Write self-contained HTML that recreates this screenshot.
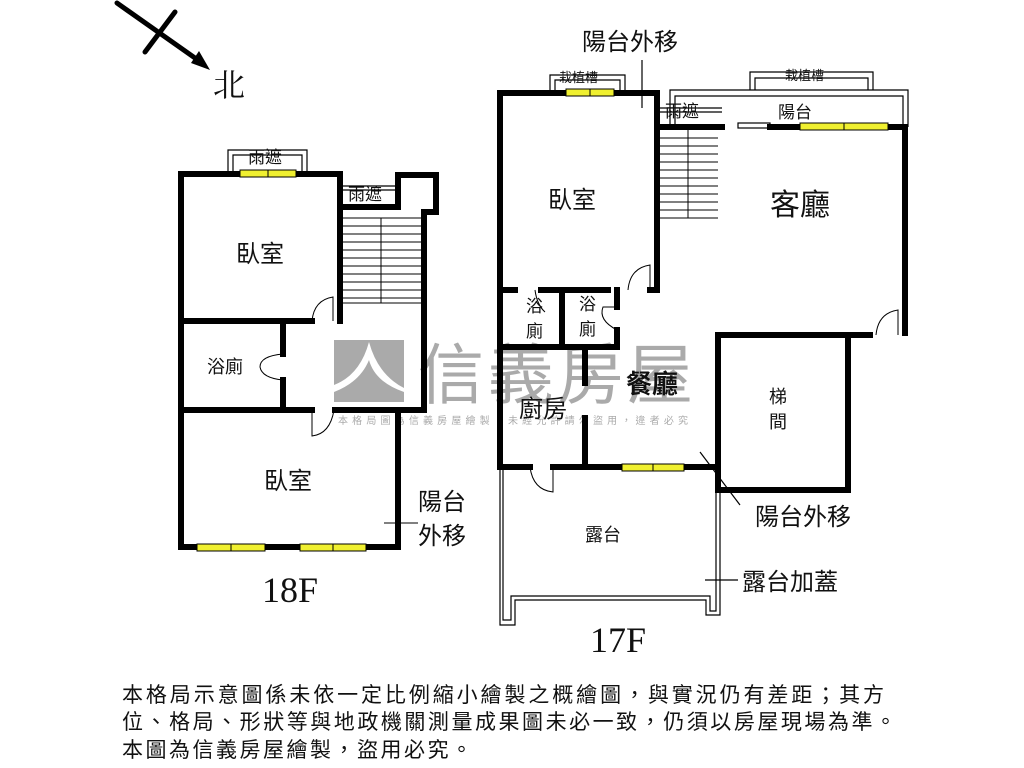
<!DOCTYPE html>
<html><head><meta charset="utf-8"><style>
html,body{margin:0;padding:0;background:#fff}
svg{display:block}
text{font-family:"Liberation Sans","Noto Sans CJK TC",sans-serif;fill:#111}
.serif{font-family:"Liberation Serif","Noto Serif CJK SC",serif}
</style></head><body>
<svg width="1024" height="768" viewBox="0 0 1024 768" xmlns="http://www.w3.org/2000/svg">
<!-- watermark -->
<rect x="334" y="340" width="70" height="62" fill="#aaa"/>
<path d="M334 385 Q360 375 369 342 Q378 375 404 388 L404 392 Q375 382 369 360 Q360 382 334 392Z" fill="#fff"/>
<text x="418" y="398" font-size="66" fill="#aaa" style="fill:#aaa" textLength="275">信義房屋</text>
<text x="338" y="424" font-size="10" style="fill:#aaa" textLength="350">本格局圖為信義房屋繪製，未經允許請勿盜用，違者必究</text>

<!-- compass -->
<g stroke="#000" stroke-width="5" stroke-linecap="round">
<line x1="117" y1="3" x2="195" y2="58"/>
<line x1="145" y1="52" x2="175" y2="12"/>
</g>
<polygon points="210,70 191,63 199,51" fill="#000"/>
<text x="213" y="96" font-size="32" class="serif">北</text>

<!-- 18F thin outlines -->
<g fill="none" stroke="#000" stroke-width="1.2">
<path d="M228 172 V150 H307 V172 M233 172 V155 H302 V172"/>
<path d="M343 186 H400 M343 190 H400"/>
</g>
<!-- stairs 18F -->
<g stroke="#000" stroke-width="1">
<line x1="381" y1="218" x2="381" y2="303"/>
<line x1="343" y1="218" x2="424" y2="218"/><line x1="343" y1="226" x2="424" y2="226"/>
<line x1="343" y1="234" x2="424" y2="234"/><line x1="343" y1="242" x2="424" y2="242"/>
<line x1="343" y1="250" x2="424" y2="250"/><line x1="343" y1="258" x2="424" y2="258"/>
<line x1="343" y1="266" x2="424" y2="266"/><line x1="343" y1="274" x2="424" y2="274"/>
<line x1="343" y1="282" x2="424" y2="282"/><line x1="343" y1="290" x2="424" y2="290"/>
<line x1="343" y1="298" x2="424" y2="298"/><line x1="343" y1="303" x2="424" y2="303"/>
</g>
<!-- 18F walls -->
<g stroke="#000" stroke-width="6" fill="none" stroke-linecap="square">
<path d="M181 174 V547 H398 V410"/>
<path d="M181 174 H340 V321"/>
<path d="M340 207 H398 V175 H436 V212 H424 V410 H335"/>
<path d="M181 321 H312"/>
<path d="M181 410 H312"/>
<path d="M283 321 V354 M283 380 V410"/>
</g>
<!-- 18F doors -->
<g fill="none" stroke="#000" stroke-width="1">
<path d="M312 321 Q314 300 333 297 V321"/>
<path d="M283 354 Q260 356 260 367 Q262 378 283 380"/>
<path d="M312 410 V436 Q330 434 334 410"/>
</g>

<!-- 18F labels -->
<text x="236" y="262" font-size="24">臥室</text>
<text x="207" y="373" font-size="18">浴廁</text>
<text x="264" y="489" font-size="24">臥室</text>
<text x="348" y="200" font-size="17">雨遮</text>
<text x="248" y="163" font-size="17">雨遮</text>
<text x="418" y="510" font-size="24">陽台</text>
<text x="418" y="544" font-size="24">外移</text>
<line x1="384" y1="523" x2="418" y2="523" stroke="#000" stroke-width="1"/>
<text x="262" y="602" font-size="36" class="serif">18F</text>

<!-- 17F thin outlines -->
<g fill="none" stroke="#000" stroke-width="1.2">
<path d="M550 93 V75 H625 V93 M555 93 V80 H620 V93"/>
<path d="M750 90 V72 H873 V90 M755 90 V78 H868 V90"/>
<path d="M670 127 V90 H908 V127 M675 127 V96 H903 V127"/>
<path d="M657 108 H722 M657 112 H722"/>
<path d="M500 470 V625 H515 V600 H706 V615 H720 V490 M503 470 V620 H511 V596 H710 V611 H716 V490"/>
<path d="M642 60 V108"/>
<path d="M700 452 L740 505"/>
<path d="M705 580 H738"/>
<rect x="738" y="123" width="32" height="5"/>
</g>
<!-- stairs 17F -->
<g stroke="#000" stroke-width="1">
<line x1="688" y1="130" x2="688" y2="218"/>
<line x1="660" y1="138" x2="718" y2="138"/><line x1="660" y1="146" x2="718" y2="146"/>
<line x1="660" y1="154" x2="718" y2="154"/><line x1="660" y1="162" x2="718" y2="162"/>
<line x1="660" y1="170" x2="718" y2="170"/><line x1="660" y1="178" x2="718" y2="178"/>
<line x1="660" y1="186" x2="718" y2="186"/><line x1="660" y1="194" x2="718" y2="194"/>
<line x1="660" y1="202" x2="718" y2="202"/><line x1="660" y1="210" x2="718" y2="210"/>
<line x1="660" y1="218" x2="718" y2="218"/>
</g>
<!-- 17F walls -->
<g stroke="#000" stroke-width="6" fill="none" stroke-linecap="square">
<path d="M500 93 V467 H530 M553 467 H718 V335 H870"/>
<path d="M500 93 H657 V290 H650"/>
<path d="M562 290 V347 M617 290 V307 M617 330 V347 M500 347 H617"/>
<path d="M585 347 V383 M585 418 V467"/>
<path d="M660 127 H722 M770 127 H905 V333"/>
<path d="M718 335 V490 H848 V335"/>
</g>
<line x1="500" y1="290" x2="518" y2="290" stroke="#000" stroke-width="6"/>
<line x1="538" y1="290" x2="611" y2="290" stroke="#000" stroke-width="6"/>
<!-- 17F doors -->
<g fill="none" stroke="#000" stroke-width="1">
<path d="M628 290 Q630 268 650 265 V290"/>
<path d="M535 290 Q537 305 545 312"/>
<path d="M617 307 H603 Q598 320 617 330"/>
<path d="M530 467 Q533 490 553 492 V467"/>
<path d="M876 335 Q878 313 898 310 V335"/>
</g>
<!-- windows -->
<g stroke="#000" stroke-width="1" fill="#f0f030">
<rect x="240" y="170" width="56" height="7"/><line x1="268" y1="170" x2="268" y2="177"/>
<rect x="197" y="544" width="68" height="7"/><line x1="231" y1="544" x2="231" y2="551"/>
<rect x="300" y="544" width="66" height="7"/><line x1="333" y1="544" x2="333" y2="551"/>
<rect x="566" y="89" width="48" height="7"/><line x1="590" y1="89" x2="590" y2="96"/>
<rect x="800" y="123" width="88" height="7"/><line x1="844" y1="123" x2="844" y2="130"/>
<rect x="622" y="464" width="62" height="7"/><line x1="653" y1="464" x2="653" y2="471"/>
</g>
<!-- 17F labels -->
<text x="582" y="50" font-size="24">陽台外移</text>
<text x="559" y="82" font-size="13">栽植槽</text>
<text x="785" y="80" font-size="13">栽植槽</text>
<text x="665" y="117" font-size="17">雨遮</text>
<text x="778" y="118" font-size="17">陽台</text>
<text x="548" y="208" font-size="24">臥室</text>
<text x="770" y="215" font-size="30">客廳</text>
<text x="526" y="312" font-size="17">浴</text>
<text x="526" y="337" font-size="17">廁</text>
<text x="579" y="310" font-size="17">浴</text>
<text x="579" y="335" font-size="17">廁</text>
<text x="626" y="393" font-size="26" style="font-weight:bold">餐廳</text>
<text x="519" y="417" font-size="24">廚房</text>
<text x="769" y="403" font-size="18">梯</text>
<text x="769" y="428" font-size="18">間</text>
<text x="585" y="541" font-size="18">露台</text>
<text x="755" y="525" font-size="24">陽台外移</text>
<text x="742" y="590" font-size="24">露台加蓋</text>
<text x="590" y="652" font-size="36" class="serif">17F</text>

<!-- disclaimer -->
<text x="122" y="702" font-size="21" textLength="762">本格局示意圖係未依一定比例縮小繪製之概繪圖，與實況仍有差距；其方</text>
<text x="122" y="729" font-size="21" textLength="774">位、格局、形狀等與地政機關測量成果圖未必一致，仍須以房屋現場為準。</text>
<text x="122" y="757" font-size="21" textLength="350">本圖為信義房屋繪製，盜用必究。</text>
</svg>
</body></html>
